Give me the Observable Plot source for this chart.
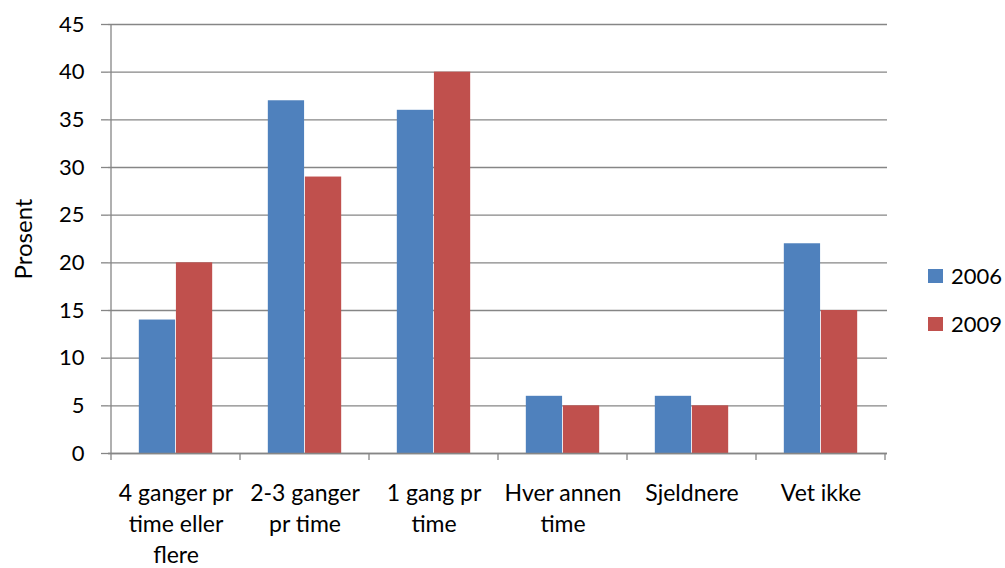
<!DOCTYPE html>
<html>
<head>
<meta charset="utf-8">
<script src="https://cdn.jsdelivr.net/npm/d3@7"></script>
<script src="https://cdn.jsdelivr.net/npm/@observablehq/plot@0.6"></script>
<style>
  body { margin: 0; background: #fff; }
  #chart { position: relative; width: 1005px; height: 568px; font-family: Lato, "Open Sans", sans-serif; }
  #chart svg { position: absolute; left: 0; top: 0; }
  .legend-item { position: absolute; left: 928px; display: flex; align-items: center; font-size: 22px; color: #000; }
  .legend-item span.sw { display: inline-block; width: 15px; height: 14px; margin-right: 8px; }
</style>
</head>
<body>
<div id="chart"></div>
<script>
// Survey categories (how often) and the share answering each, per year
const categories = ["4g", "2-3g", "1g", "hver", "sjeldnere", "vet"];
const categoryLabels = [
  "4 ganger pr\ntime eller\nflere",
  "2-3 ganger\npr time",
  "1 gang pr\ntime",
  "Hver annen\ntime",
  "Sjeldnere",
  "Vet ikke"
];
const years = ["2006", "2009"];
const values2006 = [14, 37, 36, 6, 6, 22];
const values2009 = [20, 29, 40, 5, 5, 15];
const yTicks = [0, 5, 10, 15, 20, 25, 30, 35, 40, 45];
const yLabel = "Prosent";
const colors = ["#4F81BD", "#C0504D"];

const rows = categories.flatMap((c, i) => [
  {category: c, year: years[0], value: values2006[i]},
  {category: c, year: years[1], value: values2009[i]}
]);

const W = 1005, H = 568;
const margin = {top: 24, right: 118, bottom: 115, left: 108};
const axisGrey = "#868686";

// Two bars per category, 150% gap width between groups
const band = (W - margin.left - margin.right) / categories.length;
const barW = band / 3.5;
const labelOf = new Map(categories.map((c, i) => [c, categoryLabels[i]]));

// Vertical axis line and category boundary ticks on the horizontal axis
function axisLines(index, scales, values, dims) {
  const x = scales.x, y = scales.y;
  const bw = x.bandwidth ? x.bandwidth() : band;
  const g = d3.create("svg:g").attr("stroke", axisGrey).attr("stroke-width", 1.3);
  const y0 = y(0);
  g.append("line").attr("x1", x(categories[0])).attr("x2", x(categories[0]))
    .attr("y1", y(yTicks[yTicks.length - 1])).attr("y2", y0);
  const edges = categories.map(c => x(c)).concat([x(categories[categories.length - 1]) + bw]);
  for (const e of edges) {
    g.append("line").attr("x1", e).attr("x2", e).attr("y1", y0).attr("y2", y0 + 7);
  }
  return g.node();
}

const chart = Plot.plot({
  width: W,
  height: H,
  marginTop: margin.top,
  marginRight: margin.right,
  marginBottom: margin.bottom,
  marginLeft: margin.left,
  style: {fontFamily: "Lato, 'Open Sans', sans-serif", fontSize: "22px", color: "#000", background: "transparent"},
  x: {domain: categories, padding: 0, axis: null},
  y: {domain: [0, 45], ticks: yTicks, axis: null},
  color: {domain: years, range: colors},
  marks: [
    Plot.gridY(yTicks, {stroke: axisGrey, strokeOpacity: 1, strokeWidth: 1.3}),
    Plot.axisY(yTicks, {
      tickSize: 7, tickPadding: 17, stroke: axisGrey, strokeWidth: 1.3,
      fill: "#000", fontSize: 22, label: null
    }),
    Plot.barY(rows.filter(d => d.year === years[0]), {
      x: "category", y: "value", fill: "year",
      insetLeft: 0.75 * barW, insetRight: band - 1.75 * barW
    }),
    Plot.barY(rows.filter(d => d.year === years[1]), {
      x: "category", y: "value", fill: "year",
      insetLeft: 1.75 * barW, insetRight: 0.75 * barW
    }),
    Plot.ruleY([0], {stroke: axisGrey, strokeWidth: 1.3}),
    axisLines,
    Plot.text(categories, {
      x: d => d, text: d => labelOf.get(d),
      frameAnchor: "bottom", lineAnchor: "top", dy: 25,
      lineHeight: 1.36, fontSize: 23, fill: "#000"
    }),
    Plot.text([yLabel], {
      frameAnchor: "left", textAnchor: "middle", dx: -84, rotate: -90, fontSize: 24, fill: "#000"
    })
  ]
});

const root = document.getElementById("chart");
root.appendChild(chart);

// Legend to the right of the plot
const legendTops = [262, 310];
years.forEach((yr, i) => {
  const item = document.createElement("div");
  item.className = "legend-item";
  item.style.top = legendTops[i] + "px";
  const sw = document.createElement("span");
  sw.className = "sw";
  sw.style.background = colors[i];
  item.appendChild(sw);
  item.appendChild(document.createTextNode(yr));
  root.appendChild(item);
});
</script>
</body>
</html>
